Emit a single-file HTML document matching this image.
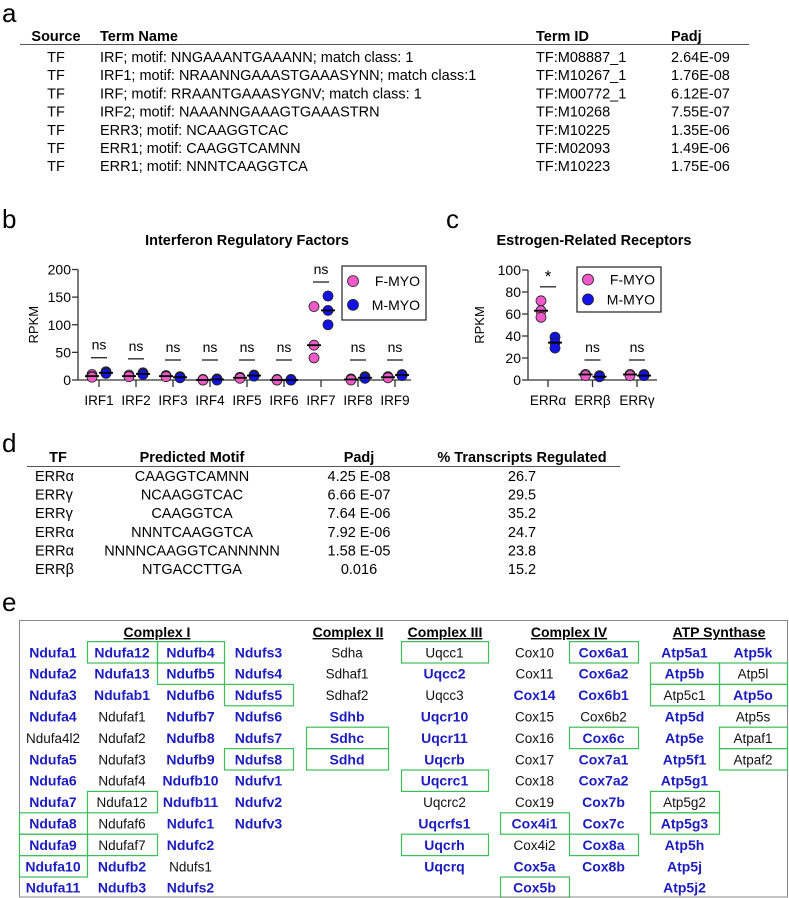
<!DOCTYPE html>
<html><head><meta charset="utf-8"><style>
html,body{margin:0;padding:0;background:#fff;}
svg{display:block;font-family:"Liberation Sans",Arial,sans-serif;}
.b{font-weight:bold;}
</style></head><body>
<svg id="fig" width="789" height="898" viewBox="0 0 789 898" xmlns="http://www.w3.org/2000/svg">
<!-- Panel a -->
<g font-size="14.5">
<text x="2" y="22" font-size="26">a</text>
<text x="56" y="41" text-anchor="middle" class="b">Source</text>
<text x="100" y="41" class="b">Term Name</text>
<text x="536" y="41" class="b">Term ID</text>
<text x="671" y="41" class="b">Padj</text>
<line x1="20" y1="44.5" x2="749" y2="44.5" stroke="#555" stroke-width="1"/>
<g id="tableA"></g>
</g>
<!-- Panel b -->
<g>
<text x="2" y="228" font-size="26">b</text>
<text x="247" y="245" text-anchor="middle" class="b" font-size="14.5">Interferon Regulatory Factors</text>
<g id="chartB"></g>
</g>
<!-- Panel c -->
<g>
<text x="446" y="228" font-size="26">c</text>
<text x="594" y="245" text-anchor="middle" class="b" font-size="14.5">Estrogen-Related Receptors</text>
<g id="chartC"></g>
</g>
<!-- Panel d -->
<g font-size="14.5">
<text x="2" y="452" font-size="26">d</text>
<text x="58" y="462" text-anchor="middle" class="b">TF</text>
<text x="192" y="462" text-anchor="middle" class="b">Predicted Motif</text>
<text x="359" y="462" text-anchor="middle" class="b">Padj</text>
<text x="522" y="462" text-anchor="middle" class="b">% Transcripts Regulated</text>
<line x1="27" y1="466.5" x2="620" y2="466.5" stroke="#555" stroke-width="1"/>
<g id="tableD"></g>
</g>
<!-- Panel e -->
<g>
<text x="2" y="611" font-size="26">e</text>
<rect x="19.5" y="620.5" width="768" height="276.5" fill="none" stroke="#888" stroke-width="1"/>
<g id="gridE"></g>
</g>
</svg>
<script>
const NS="http://www.w3.org/2000/svg";
function mk(tag,attrs,parent,txt){const e=document.createElementNS(NS,tag);for(const k in attrs)e.setAttribute(k,attrs[k]);if(txt!==undefined)e.textContent=txt;parent.appendChild(e);return e;}

// ---- Panel a data
const aSource=["TF","TF","TF","TF","TF","TF","TF"];
const aTerm=["IRF; motif: NNGAAANTGAAANN; match class: 1","IRF1; motif: NRAANNGAAASTGAAASYNN; match class:1","IRF; motif: RRAANTGAAASYGNV; match class: 1","IRF2; motif: NAAANNGAAAGTGAAASTRN","ERR3; motif: NCAAGGTCAC","ERR1; motif: CAAGGTCAMNN","ERR1; motif: NNNTCAAGGTCA"];
const aId=["TF:M08887_1","TF:M10267_1","TF:M00772_1","TF:M10268","TF:M10225","TF:M02093","TF:M10223"];
const aPadj=["2.64E-09","1.76E-08","6.12E-07","7.55E-07","1.35E-06","1.49E-06","1.75E-06"];
const tA=document.getElementById('tableA');
aSource.forEach((s,i)=>{const y=62+18.2*i;
 let e=mk('text',{x:56,y:y,'text-anchor':'middle'},tA,s);
 
 
 e=mk('text',{x:100,y:y},tA,aTerm[i]);
 
 
 e=mk('text',{x:536,y:y},tA,aId[i]);
 
 
 e=mk('text',{x:671,y:y},tA,aPadj[i]);
 
 
});

// ---- Panel b data
const irfCats=["IRF1","IRF2","IRF3","IRF4","IRF5","IRF6","IRF7","IRF8","IRF9"];
const irfF=[[10,7,5],[9,7,6],[8,7,6],[1,0,0],[5,4,3],[1,0,0],[133,63,40],[2,1,0],[6,5,4]];
const irfM=[[15,13,12],[13,11,10],[6,5,4],[2,1,0],[9,8,7],[1,0,0],[152,126,100],[6,4,3],[10,9,8]];
const irfSig=["ns","ns","ns","ns","ns","ns","ns","ns","ns"];
const irfTicks=[0,50,100,150,200];

// ---- Panel c data
const errCats=["ERRα","ERRβ","ERRγ"];
const errF=[[72,63,57],[5,5,4],[5,5,4]];
const errM=[[39,34,29],[4,3,3],[5,4,4]];
const errSig=["*","ns","ns"];
const errTicks=[0,20,40,60,80,100];

const PINK="#f05ac8",BLUE="#1212e6";
function median(a){const s=[...a].sort((p,q)=>p-q);return s[1];}
function drawChart(g,o){
 const y=v=>o.y0-(v-0)*(o.y0-o.yTop)/o.yMax;
 const x=i=>o.x0+o.step*i;
 let e=mk('line',{x1:o.ax,y1:y(o.yMax),x2:o.ax,y2:o.y0,stroke:'#333','stroke-width':1.3},g);
 
 
 e=mk('line',{x1:o.ax,y1:o.y0,x2:o.axEnd,y2:o.y0,stroke:'#333','stroke-width':1.3},g);
 
 
 o.ticks.forEach(t=>{
  mk('line',{x1:o.ax-6,y1:y(t),x2:o.ax,y2:y(t),stroke:'#333','stroke-width':1.3},g);
  e=mk('text',{x:o.ax-7,y:y(t)+5,'text-anchor':'end','font-size':14},g,t);
  
  
 });
 e=mk('text',{transform:`translate(${o.ylx},${(o.y0+y(o.yMax))/2}) rotate(-90)`,'text-anchor':'middle','font-size':13},g,'RPKM');
 
 
 o.cats.forEach((c,i)=>{
  mk('line',{x1:x(i),y1:o.y0,x2:x(i),y2:o.y0+7,stroke:'#333','stroke-width':1.3},g);
  e=mk('text',{x:x(i),y:o.y0+25,'text-anchor':'middle','font-size':13.5},g,c);
  
  
  [[o.F[i],-7,PINK,'f-myo-point'],[o.M[i],7,BLUE,'m-myo-point']].forEach(([vals,off,col,nm])=>{
   vals.forEach(v=>{e=mk('circle',{cx:x(i)+off,cy:y(v),r:5,fill:col,stroke:'#222','stroke-width':0.8},g);
    
    });
   e=mk('line',{x1:x(i)+off-7,y1:y(median(vals)),x2:x(i)+off+7,y2:y(median(vals)),stroke:'#000','stroke-width':1.8},g);
   
   
  });
  const top=Math.max(...o.F[i],...o.M[i]);
  const ly=Math.min(y(top)-14,o.nsY);
  e=mk('line',{x1:x(i)-8,y1:ly,x2:x(i)+8,y2:ly,stroke:'#222','stroke-width':1.3},g);
  
  
  e=mk('text',{x:x(i),y:o.sig[i]==='*'?ly-5:ly-8,'text-anchor':'middle','font-size':o.sig[i]==='*'?17:14},g,o.sig[i]);
  
  
 });
 const L=o.leg;
 e=mk('rect',{x:L.x,y:L.y,width:L.w,height:L.h,fill:'#fff',stroke:'#222','stroke-width':1.2},g);
 
 
 [['F-MYO',PINK,0],['M-MYO',BLUE,1]].forEach(([t,c,k])=>{
  const cy=L.y+L.h*(0.28+0.44*k);
  e=mk('circle',{cx:L.x+11,cy:cy,r:5.5,fill:c,stroke:'#222','stroke-width':0.8},g);
  
  
  e=mk('text',{x:L.x+L.w-6,y:cy+5,'text-anchor':'end','font-size':14},g,t);
  
  
 });
}
drawChart(document.getElementById('chartB'),{y0:380,yTop:269.5,yMax:200,ax:78,axEnd:411,x0:99,step:37,cats:irfCats,F:irfF,M:irfM,sig:irfSig,ticks:irfTicks,ylx:38,nsY:360,leg:{x:342,y:266,w:84,h:54}});
drawChart(document.getElementById('chartC'),{y0:380,yTop:270,yMax:100,ax:528,axEnd:657,x0:548,step:44.5,cats:errCats,F:errF,M:errM,sig:errSig,ticks:errTicks,ylx:484,nsY:360,leg:{x:577,y:267,w:84,h:45}});

// ---- Panel d data
const dTF=["ERRα","ERRγ","ERRγ","ERRα","ERRα","ERRβ"];
const dMotif=["CAAGGTCAMNN","NCAAGGTCAC","CAAGGTCA","NNNTCAAGGTCA","NNNNCAAGGTCANNNNN","NTGACCTTGA"];
const dPadj=["4.25 E-08","6.66 E-07","7.64 E-06","7.92 E-06","1.58 E-05","0.016"];
const dPct=["26.7","29.5","35.2","24.7","23.8","15.2"];
const tD=document.getElementById('tableD');
dTF.forEach((s,i)=>{const y=481+18.6*i;
 let e=mk('text',{x:35,y:y},tD,s);
 
 
 e=mk('text',{x:192,y:y,'text-anchor':'middle'},tD,dMotif[i]);
 
 
 e=mk('text',{x:359,y:y,'text-anchor':'middle'},tD,dPadj[i]);
 
 
 e=mk('text',{x:522,y:y,'text-anchor':'middle'},tD,dPct[i]);
 
 
});

// ---- Panel e
// entry code: B=blue bold, N=normal black, suffix '*' = boxed
const eCols=[
 {l:19,r:87,g:["Ndufa1 B","Ndufa2 B","Ndufa3 B","Ndufa4 B","Ndufa4l2 N","Ndufa5 B","Ndufa6 B","Ndufa7 B","Ndufa8 B*","Ndufa9 B*","Ndufa10 B*","Ndufa11 B"]},
 {l:87,r:157,g:["Ndufa12 B*","Ndufa13 B","Ndufab1 B","Ndufaf1 N","Ndufaf2 N","Ndufaf3 N","Ndufaf4 N","Ndufa12 N*","Ndufaf6 N","Ndufaf7 N*","Ndufb2 B","Ndufb3 B"]},
 {l:157,r:224,g:["Ndufb4 B*","Ndufb5 B*","Ndufb6 B","Ndufb7 B","Ndufb8 B","Ndufb9 B","Ndufb10 B","Ndufb11 B","Ndufc1 B","Ndufc2 B","Ndufs1 N","Ndufs2 B"]},
 {l:224,r:293,g:["Ndufs3 B","Ndufs4 B","Ndufs5 B*","Ndufs6 B","Ndufs7 B","Ndufs8 B*","Ndufv1 B","Ndufv2 B","Ndufv3 B"]},
 {l:306,r:388,g:["Sdha N","Sdhaf1 N","Sdhaf2 N","Sdhb B","Sdhc B*","Sdhd B*"]},
 {l:401,r:488,g:["Uqcc1 N*","Uqcc2 B","Uqcc3 N","Uqcr10 B","Uqcr11 B","Uqcrb B","Uqcrc1 B*","Uqcrc2 N","Uqcrfs1 B","Uqcrh B*","Uqcrq B"]},
 {l:500,r:569,g:["Cox10 N","Cox11 N","Cox14 B","Cox15 N","Cox16 N","Cox17 N","Cox18 N","Cox19 N","Cox4i1 B*","Cox4i2 N","Cox5a B","Cox5b B*"]},
 {l:569,r:638,g:["Cox6a1 B*","Cox6a2 B","Cox6b1 B","Cox6b2 N","Cox6c B*","Cox7a1 B","Cox7a2 B","Cox7b B","Cox7c B","Cox8a B*","Cox8b B"]},
 {l:650,r:719,g:["Atp5a1 B","Atp5b B*","Atp5c1 N*","Atp5d B","Atp5e B","Atp5f1 B","Atp5g1 B","Atp5g2 N*","Atp5g3 B*","Atp5h B","Atp5j B","Atp5j2 B"]}, 
 {l:719,r:787,g:["Atp5k B","Atp5l N*","Atp5o B*","Atp5s N","Atpaf1 N*","Atpaf2 N*"]}
];
const eHeads=[["Complex I",157],["Complex II",348],["Complex III",445],["Complex IV",569],["ATP Synthase",719]];
const gE=document.getElementById('gridE');
eHeads.forEach(([t,x])=>{const e=mk('text',{x:x,y:637,'text-anchor':'middle','font-size':14,'font-weight':'bold','text-decoration':'underline'},gE,t);
 
 });
eCols.forEach(c=>{const cx=(c.l+c.r)/2;
 c.g.forEach((s,i)=>{const [nm,code]=s.split(' ');const cy=652.3+21.4*i;
  if(code.endsWith('*')){const r=mk('rect',{x:c.l+0.5,y:cy-10.7,width:c.r-c.l,height:21.4,fill:'none',stroke:'#3cbf5a','stroke-width':1.2},gE);
   
   }
  const bold=code[0]==='B';
  const e=mk('text',{x:cx,y:cy+5,'text-anchor':'middle','font-size':bold?14:13.5,'font-weight':bold?'bold':'normal',fill:bold?'#1c1cc0':'#111'},gE,nm);
  
  
 });
});
</script>
</body></html>
